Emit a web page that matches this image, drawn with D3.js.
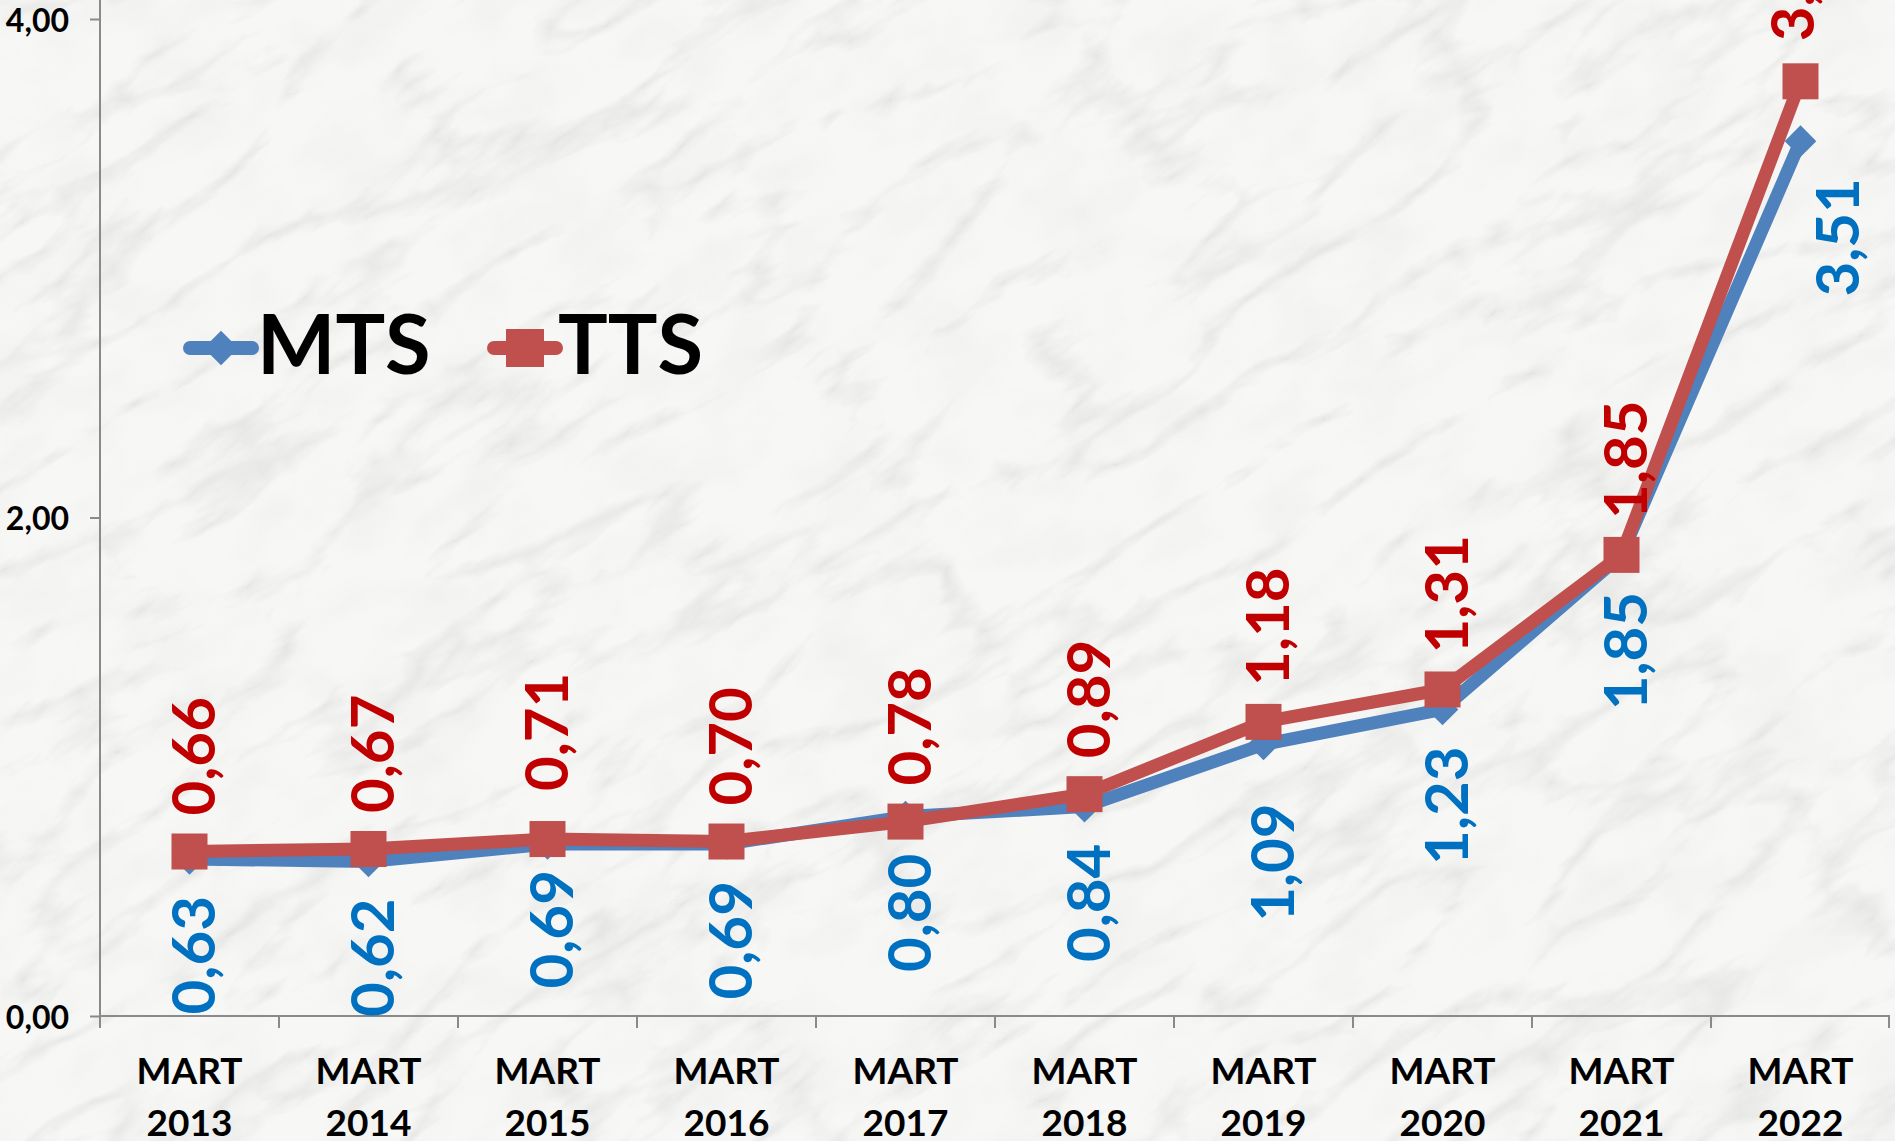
<!DOCTYPE html>
<html>
<head>
<meta charset="utf-8">
<script src="https://cdn.jsdelivr.net/npm/d3@7"></script>
<style>
  body { margin: 0; overflow: hidden; background: #f6f6f5; }
  text { font-family: Lato, "Open Sans", sans-serif; font-weight: bold; }
</style>
</head>
<body>
<div id="chart"></div>
<script>
const width = 1895;
const height = 1141;
const margin = { top: 19, right: 5, bottom: 125, left: 100 };

// data
const categories = ['MART 2013', 'MART 2014', 'MART 2015', 'MART 2016', 'MART 2017',
                    'MART 2018', 'MART 2019', 'MART 2020', 'MART 2021', 'MART 2022'];
const mtsValues = [0.63, 0.62, 0.69, 0.69, 0.80, 0.84, 1.09, 1.23, 1.85, 3.51];
const ttsValues = [0.66, 0.67, 0.71, 0.70, 0.78, 0.89, 1.18, 1.31, 1.85, 3.75];
const yTicks = [0, 2, 4];

// hand-moved labels in the original
const mtsNudge = { 2: [0, -11], 6: [5, 22], 9: [33, 0] };
const ttsNudge = { 2: [-5, -12], 9: [-12, -4] };

const blue = '#4F81BD', red = '#C0504D';
const blueText = '#0070C0', redText = '#C00000';

const fmt = d3.formatLocale({ decimal: ',', thousands: '.', grouping: [3], currency: ['', ''] }).format('.2f');

const svg = d3.select('#chart')
    .append('svg')
    .attr('width', width)
    .attr('height', height)
    .attr('viewBox', [0, 0, width, height]);

// marble-ish background
const defs = svg.append('defs');
const f = defs.append('filter').attr('id', 'marble')
    .attr('x', 0).attr('y', 0).attr('width', '100%').attr('height', '100%');
f.append('feTurbulence')
    .attr('type', 'turbulence')
    .attr('baseFrequency', '0.005 0.014')
    .attr('numOctaves', 4)
    .attr('seed', 5);
f.append('feColorMatrix')
    .attr('type', 'matrix')
    .attr('values', '0 0 0 0 0.62  0 0 0 0 0.62  0 0 0 0 0.60  -3.2 0 0 0 0.85');
const f2 = defs.append('filter').attr('id', 'mottle')
    .attr('x', 0).attr('y', 0).attr('width', '100%').attr('height', '100%');
f2.append('feTurbulence')
    .attr('type', 'fractalNoise')
    .attr('baseFrequency', '0.012 0.02')
    .attr('numOctaves', 3)
    .attr('seed', 3);
f2.append('feColorMatrix')
    .attr('type', 'matrix')
    .attr('values', '0 0 0 0 0.8  0 0 0 0 0.8  0 0 0 0 0.79  -1.6 0 0 0 0.95');

svg.append('rect')
    .attr('width', width).attr('height', height)
    .attr('fill', '#f7f7f6');
const bg = svg.append('g')
    .attr('transform', `translate(${width / 2}, ${height / 2}) rotate(-32)`);
bg.append('rect')
    .attr('x', -1400).attr('y', -1200)
    .attr('width', 2800).attr('height', 2400)
    .attr('filter', 'url(#mottle)')
    .attr('opacity', 0.5);
bg.append('rect')
    .attr('x', -1400).attr('y', -1200)
    .attr('width', 2800).attr('height', 2400)
    .attr('filter', 'url(#marble)')
    .attr('opacity', 0.45);

const x = d3.scaleBand()
    .domain(categories)
    .range([margin.left, width - margin.right])
    .padding(0);

const y = d3.scaleLinear()
    .domain([0, 4])
    .range([height - margin.bottom, margin.top]);

const cx = d => x(d) + x.bandwidth() / 2;

// y axis
const yAxis = svg.append('g')
    .attr('transform', `translate(${margin.left}, 0)`)
    .call(d3.axisLeft(y).tickValues(yTicks).tickSize(10).tickPadding(21).tickFormat(fmt));
yAxis.select('.domain').attr('d', `M0,0V${y(0)}`);
yAxis.selectAll('line, path').attr('stroke', '#8a8a8a').attr('stroke-width', 2);
yAxis.selectAll('text')
    .attr('dy', '0.38em')
    .attr('font-size', '32px')
    .attr('fill', '#000')
    .attr('font-family', 'Lato, sans-serif')
    .attr('font-weight', 'bold');

// x axis: line + ticks on category borders
const xAxis = svg.append('g');
xAxis.append('line')
    .attr('x1', x.range()[0]).attr('x2', x.range()[1])
    .attr('y1', y(0)).attr('y2', y(0))
    .attr('stroke', '#8a8a8a').attr('stroke-width', 2);
xAxis.selectAll('.tick')
    .data(categories.map(c => x(c)).concat([x.range()[1] - 1]))
    .join('line')
      .attr('x1', d => d).attr('x2', d => d)
      .attr('y1', y(0)).attr('y2', y(0) + 12)
      .attr('stroke', '#8a8a8a').attr('stroke-width', 2);
const xl = xAxis.selectAll('text.cat')
    .data(categories)
    .join('text')
      .attr('class', 'cat')
      .attr('text-anchor', 'middle')
      .attr('font-size', '37px')
      .attr('fill', '#000');
xl.append('tspan')
    .attr('x', d => cx(d)).attr('y', 1084)
    .text(d => d.split(' ')[0]);
xl.append('tspan')
    .attr('x', d => cx(d)).attr('y', 1136)
    .text(d => d.split(' ')[1]);

// lines and markers
const line = (vals) => d3.line()
    .x((d, i) => cx(categories[i]))
    .y(d => y(d))(vals);

const diamond = d3.symbol().type(d3.symbolDiamond2).size(640);

svg.append('path')
    .attr('d', line(mtsValues))
    .attr('fill', 'none')
    .attr('stroke', blue)
    .attr('stroke-width', 13)
    .attr('stroke-linejoin', 'round');

svg.append('g')
    .selectAll('path')
    .data(mtsValues)
    .join('path')
      .attr('d', diamond)
      .attr('transform', (d, i) => `translate(${cx(categories[i])}, ${y(d)})`)
      .attr('fill', blue);

svg.append('path')
    .attr('d', line(ttsValues))
    .attr('fill', 'none')
    .attr('stroke', red)
    .attr('stroke-width', 13)
    .attr('stroke-linejoin', 'round');

svg.append('g')
    .selectAll('rect')
    .data(ttsValues)
    .join('rect')
      .attr('x', (d, i) => cx(categories[i]) - 18)
      .attr('y', d => y(d) - 18)
      .attr('width', 36)
      .attr('height', 36)
      .attr('fill', red);

// data labels, rotated
svg.append('g')
    .selectAll('text')
    .data(mtsValues)
    .join('text')
      .attr('transform', (d, i) => {
        const n = mtsNudge[i] || [0, 0];
        return `translate(${cx(categories[i]) + 25 + n[0]}, ${y(d) + 37 + n[1]}) rotate(-90)`;
      })
      .attr('text-anchor', 'end')
      .attr('font-size', '60px')
      .attr('fill', blueText)
      .text(d => fmt(d));

svg.append('g')
    .selectAll('text')
    .data(ttsValues)
    .join('text')
      .attr('transform', (d, i) => {
        const n = ttsNudge[i] || [0, 0];
        return `translate(${cx(categories[i]) + 25 + n[0]}, ${y(d) - 36 + n[1]}) rotate(-90)`;
      })
      .attr('text-anchor', 'start')
      .attr('font-size', '60px')
      .attr('fill', redText)
      .text(d => fmt(d));

// legend
const legend = svg.append('g');
const items = [
  { name: 'MTS', color: blue, x0: 190, tx: 257 },
  { name: 'TTS', color: red, x0: 494, tx: 558 }
];
legend.selectAll('line')
    .data(items)
    .join('line')
      .attr('x1', d => d.x0).attr('x2', d => d.x0 + 62)
      .attr('y1', 348).attr('y2', 348)
      .attr('stroke', d => d.color)
      .attr('stroke-width', 14)
      .attr('stroke-linecap', 'round');
legend.append('path')
    .attr('d', d3.symbol().type(d3.symbolDiamond2).size(760))
    .attr('transform', 'translate(221, 348)')
    .attr('fill', blue);
legend.append('rect')
    .attr('x', 506).attr('y', 329)
    .attr('width', 38).attr('height', 38)
    .attr('fill', red);
legend.selectAll('text')
    .data(items)
    .join('text')
      .attr('x', d => d.tx)
      .attr('y', 374)
      .attr('font-size', '83px')
      .attr('fill', '#000')
      .text(d => d.name);
</script>
</body>
</html>
